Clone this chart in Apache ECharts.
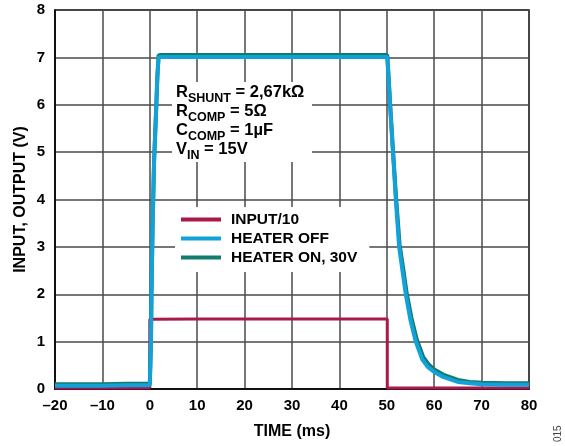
<!DOCTYPE html>
<html>
<head>
<meta charset="utf-8">
<script src="https://cdn.jsdelivr.net/npm/echarts@6/dist/echarts.min.js"></script>
<style>
html,body{margin:0;padding:0;background:#fff;}
#chart{width:565px;height:446px;}
</style>
</head>
<body>
<div id="chart"></div>
<script>
// ---- data ----
var xTicks = [-20, -10, 0, 10, 20, 30, 40, 50, 60, 70, 80];
var yTicks = [0, 1, 2, 3, 4, 5, 6, 7, 8];

var inputDiv10 = [
  [-20, 0.02], [0, 0.02], [0, 1.47], [10, 1.48], [20, 1.48], [30, 1.48],
  [40, 1.48], [50.1, 1.48], [50.1, 0.02], [80, 0.02]
];

var heaterOff = [
  [-20, 0.07], [-15, 0.07], [-10, 0.07], [-5, 0.08], [0, 0.08],
  [0.25, 1.0], [0.35, 2.0], [0.6, 3.5], [0.9, 4.8], [1.3, 5.8], [1.6, 6.6],
  [1.85, 7.0], [2.3, 7.01], [10, 7.01], [20, 7.01], [30, 7.01], [40, 7.01],
  [50.1, 7.01], [50.4, 6.5], [50.8, 5.8], [51.3, 5.0], [51.9, 4.0],
  [52.6, 3.0], [53.3, 2.5], [54.0, 2.0], [55.0, 1.45], [56.1, 1.0],
  [57.5, 0.62], [58.7, 0.46], [60, 0.36], [62, 0.25], [65, 0.15],
  [67.5, 0.12], [70, 0.1], [75, 0.09], [80, 0.09]
];

var heaterOn = [
  [-20, 0.1], [-15, 0.1], [-10, 0.1], [-5, 0.11], [0, 0.11],
  [0.25, 1.0], [0.35, 2.0], [0.6, 3.5], [0.9, 4.8], [1.3, 5.8], [1.6, 6.6],
  [1.85, 7.04], [2.3, 7.05], [10, 7.05], [20, 7.05], [30, 7.05], [40, 7.05],
  [50.1, 7.05], [50.4, 6.55], [50.8, 5.85], [51.3, 5.05], [51.95, 4.05],
  [52.7, 3.05], [53.45, 2.55], [54.15, 2.05], [55.2, 1.5], [56.3, 1.05],
  [57.7, 0.67], [58.9, 0.51], [60, 0.41], [62, 0.3], [65, 0.19],
  [67.5, 0.15], [70, 0.13], [75, 0.12], [80, 0.12]
];

var seriesNames = ['INPUT/10', 'HEATER OFF', 'HEATER ON, 30V'];
var seriesColors = ['#a8194c', '#12a2da', '#137a6e'];

// ---- chart ----
var FONT = '"Liberation Sans", Arial, Helvetica, sans-serif';
var chart = echarts.init(document.getElementById('chart'), null, {renderer: 'canvas'});

function dashMinus(v) {
  return String(v).replace('-', '\u2013');
}

var option = {
  animation: false,
  backgroundColor: '#ffffff',
  textStyle: {fontFamily: FONT},
  grid: {
    left: 55, right: 36, top: 10, bottom: 57,
    show: true, borderColor: '#000', borderWidth: 1.5, backgroundColor: '#fff'
  },
  xAxis: {
    type: 'value',
    min: xTicks[0], max: xTicks[xTicks.length - 1], interval: 10,
    name: 'TIME (ms)', nameLocation: 'middle', nameGap: 35, nameMoveOverlap: false,
    nameTextStyle: {fontFamily: FONT, fontWeight: 'bold', fontSize: 16, color: '#000'},
    axisLine: {show: true, onZero: false, lineStyle: {color: '#000', width: 1.5}},
    axisTick: {show: false},
    axisLabel: {
      margin: 9, fontFamily: FONT, fontWeight: 'bold', fontSize: 15, color: '#000',
      formatter: function (v) { return dashMinus(v); }
    },
    splitLine: {show: true, lineStyle: {color: '#4a4a4a', width: 1.5}}
  },
  yAxis: {
    type: 'value',
    min: yTicks[0], max: yTicks[yTicks.length - 1], interval: 1,
    name: 'INPUT, OUTPUT (V)', nameLocation: 'middle', nameGap: 26, nameMoveOverlap: false,
    nameTextStyle: {fontFamily: FONT, fontWeight: 'bold', fontSize: 16, color: '#000'},
    axisLine: {show: true, onZero: false, lineStyle: {color: '#000', width: 1.5}},
    axisTick: {show: false},
    axisLabel: {margin: 10, fontFamily: FONT, fontWeight: 'bold', fontSize: 15, color: '#000'},
    splitLine: {show: true, lineStyle: {color: '#4a4a4a', width: 1.5}}
  },
  legend: {
    orient: 'vertical',
    left: 175, top: 207,
    backgroundColor: '#fff',
    padding: [4, 12, 6, 6],
    itemGap: 2,
    itemWidth: 40, itemHeight: 4,
    icon: 'rect',
    data: seriesNames,
    textStyle: {fontFamily: FONT, fontWeight: 'bold', fontSize: 15.5, color: '#000',
      lineHeight: 17, padding: [0, 0, 0, 5]}
  },
  graphic: [
    {
      type: 'rect', z: 1,
      shape: {x: 172, y: 82, width: 140, height: 80},
      style: {fill: '#fff'}
    },
    {
      type: 'text', z: 2, x: 176, y: 84,
      style: {
        text: '{m|R}{s|SHUNT}{m| = 2,67kΩ}\n{m|R}{s|COMP}{m| = 5Ω}\n{m|C}{s|COMP}{m| = 1µF}\n{m|V}{s|IN}{m| = 15V}',
        fill: '#000',
        font: 'bold 16.5px ' + FONT,
        rich: {
          m: {fontFamily: FONT, fontWeight: 'bold', fontSize: 16.5, lineHeight: 19, verticalAlign: 'top'},
          s: {fontFamily: FONT, fontWeight: 'bold', fontSize: 12.5, lineHeight: 11, verticalAlign: 'top', padding: [8, 0, 0, 0]}
        }
      }
    },
    {
      type: 'text', z: 2, x: 553, y: 442, rotation: Math.PI / 2,
      style: {text: '015', fill: '#444', font: '10px ' + FONT}
    }
  ],
  series: [
    {
      name: seriesNames[0], type: 'line', data: inputDiv10, showSymbol: false, symbol: 'none',
      z: 3, clip: true,
      lineStyle: {color: seriesColors[0], width: 3}, itemStyle: {color: seriesColors[0]}
    },
    {
      name: seriesNames[2], type: 'line', data: heaterOn, showSymbol: false, symbol: 'none',
      z: 4, clip: true,
      lineStyle: {color: seriesColors[2], width: 4}, itemStyle: {color: seriesColors[2]}
    },
    {
      name: seriesNames[1], type: 'line', data: heaterOff, showSymbol: false, symbol: 'none',
      z: 5, clip: true,
      lineStyle: {color: seriesColors[1], width: 4}, itemStyle: {color: seriesColors[1]}
    }
  ]
};
chart.setOption(option);
</script>
</body>
</html>
